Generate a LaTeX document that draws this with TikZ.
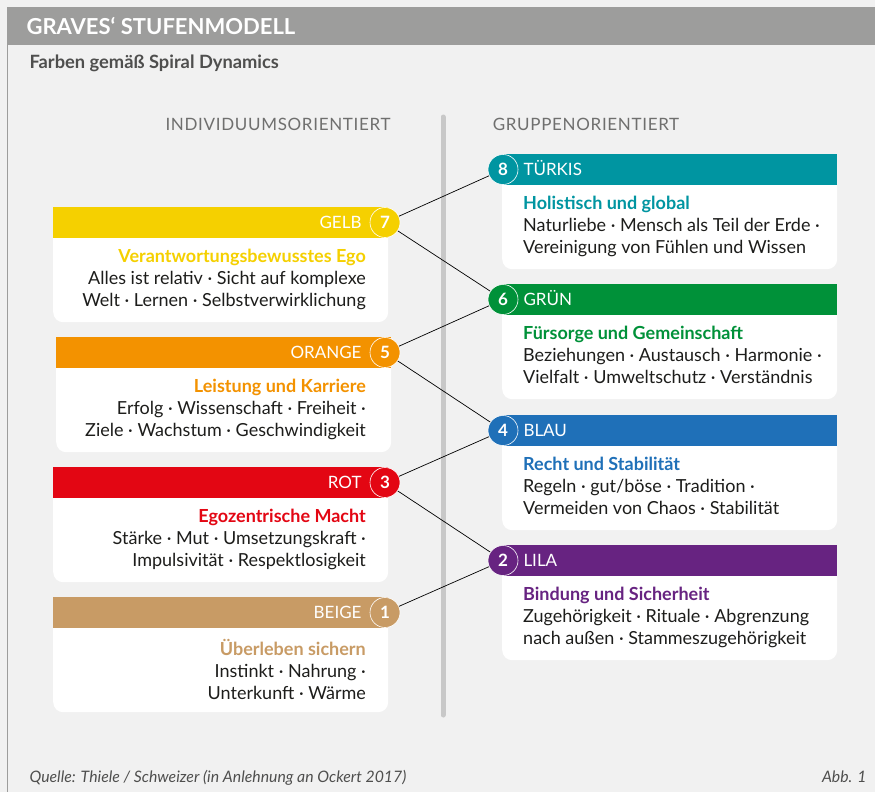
\documentclass[tikz,border=0pt]{standalone}
\usepackage{fontspec}
\setmainfont{Lato}
\usetikzlibrary{positioning}

\definecolor{paper}{HTML}{F1F1F1}
\definecolor{headgrey}{HTML}{9D9D9C}
\definecolor{subgrey}{HTML}{4F4F4E}
\definecolor{colgrey}{HTML}{6F6F6E}
\definecolor{divgrey}{HTML}{C8C8C8}
\definecolor{ink}{HTML}{1D1D1B}
\definecolor{gelb}{HTML}{F5D000}
\definecolor{orange}{HTML}{F39200}
\definecolor{rot}{HTML}{E30613}
\definecolor{beige}{HTML}{C89B65}
\definecolor{tuerkis}{HTML}{0095A1}
\definecolor{gruen}{HTML}{009139}
\definecolor{blau}{HTML}{1F70B8}
\definecolor{lila}{HTML}{672381}

\begin{document}
\begin{tikzpicture}[x=1pt, y=-1pt,
    card/.style={rectangle, fill=white, rounded corners=10pt, minimum width=335pt, minimum height=115pt, inner sep=0pt, anchor=north west},
    bar/.style={rectangle, minimum width=335pt, minimum height=31pt, inner sep=0pt, anchor=north west},
    stage/.style={circle, draw=white, line width=0.6pt, minimum size=30pt, inner sep=0pt, text=white, font=\fontsize{17}{17}\selectfont\bfseries},
    barlabel/.style={text=white, inner sep=0pt, text height=12pt, text depth=0pt, font=\fontsize{17}{17}\selectfont},
    lefttext/.style={align=right, anchor=north east, inner sep=0pt, text=ink, font=\fontsize{18}{22}\selectfont, execute at begin node=\strut},
    righttext/.style={align=left, anchor=north west, inner sep=0pt, text=ink, font=\fontsize{18}{22}\selectfont, execute at begin node=\strut},
    colhead/.style={anchor=base, text=colgrey, font=\fontsize{17}{17}\selectfont\addfontfeature{LetterSpace=4}},
    divider/.style={draw=divgrey, line width=5pt, line cap=round},
    link/.style={draw=black, line width=0.7pt}
]

    % Frame ===========================
    \useasboundingbox (0,0) rectangle (875,792);
    \fill[paper] (0,0) rectangle (875,792);
    \fill[headgrey] (7,7) rectangle (875,45);
    \draw[headgrey, line width=1pt] (7,45) -- (7,792);

    \node[anchor=base west, text=white, font=\fontsize{22}{22}\selectfont\bfseries] (title) at (23,35) {GRAVES‘ STUFENMODELL};
    \node[anchor=base west, text=subgrey, font=\fontsize{18.3}{18.3}\selectfont\bfseries] (subtitle) at (26,69) {Farben gemäß Spiral Dynamics};

    % Columns ===========================
    \node[colhead] (indiv) at (278,130) {INDIVIDUUMSORIENTIERT};
    \node[colhead] (gruppe) at (586,130) {GRUPPENORIENTIERT};

    \coordinate (divTop) at (443,117);
    \coordinate (divBot) at (443,715);
    \draw[divider] (divTop) -- (divBot);

    % Individual stages ===========================
    \node[card] (gelbCard) at (53,207) {};
    \node[bar, fill=gelb] (gelbBar) at (53,207) {};
    \node[stage, fill=gelb] (n7) at (385,222.5) {7};
    \node[barlabel, left=8pt of n7] (gelbLabel) {GELB};
    \node[lefttext] (gelbText) at (366,249) {\textcolor{gelb}{\bfseries Verantwortungsbewusstes Ego}\\Alles ist relativ · Sicht auf komplexe\\Welt · Lernen · Selbstverwirklichung};

    \node[card] (orangeCard) at (56,337) {};
    \node[bar, fill=orange] (orangeBar) at (56,337) {};
    \node[stage, fill=orange] (n5) at (385,352.5) {5};
    \node[barlabel, left=8pt of n5] (orangeLabel) {ORANGE};
    \node[lefttext] (orangeText) at (366,379) {\textcolor{orange}{\bfseries Leistung und Karriere}\\Erfolg · Wissenschaft · Freiheit ·\\Ziele · Wachstum · Geschwindigkeit};

    \node[card] (rotCard) at (53,467) {};
    \node[bar, fill=rot] (rotBar) at (53,467) {};
    \node[stage, fill=rot] (n3) at (385,482.5) {3};
    \node[barlabel, left=8pt of n3] (rotLabel) {ROT};
    \node[lefttext] (rotText) at (366,509) {\textcolor{rot}{\bfseries Egozentrische Macht}\\Stärke · Mut · Umsetzungskraft ·\\Impulsivität · Respektlosigkeit};

    \node[card] (beigeCard) at (53,597) {};
    \node[bar, fill=beige] (beigeBar) at (53,597) {};
    \node[stage, fill=beige] (n1) at (385,612.5) {1};
    \node[barlabel, left=8pt of n1] (beigeLabel) {BEIGE};
    \node[lefttext] (beigeText) at (366,639) {\textcolor{beige}{\bfseries Überleben sichern}\\Instinkt · Nahrung ·\\Unterkunft · Wärme};

    % Group stages ===========================
    \node[card] (tuerkisCard) at (502,154) {};
    \node[bar, fill=tuerkis] (tuerkisBar) at (502,154) {};
    \node[stage, fill=tuerkis] (n8) at (503,169.5) {8};
    \node[barlabel, right=5pt of n8] (tuerkisLabel) {TÜRKIS};
    \node[righttext] (tuerkisText) at (523,195.5) {\textcolor{tuerkis}{\bfseries Holistisch und global}\\Naturliebe · Mensch als Teil der Erde ·\\Vereinigung von Fühlen und Wissen};

    \node[card] (gruenCard) at (502,284) {};
    \node[bar, fill=gruen] (gruenBar) at (502,284) {};
    \node[stage, fill=gruen] (n6) at (503,299.5) {6};
    \node[barlabel, right=5pt of n6] (gruenLabel) {GRÜN};
    \node[righttext] (gruenText) at (523,325.5) {\textcolor{gruen}{\bfseries Fürsorge und Gemeinschaft}\\Beziehungen · Austausch · Harmonie ·\\Vielfalt · Umweltschutz · Verständnis};

    \node[card] (blauCard) at (502,415) {};
    \node[bar, fill=blau] (blauBar) at (502,415) {};
    \node[stage, fill=blau] (n4) at (503,430.5) {4};
    \node[barlabel, right=5pt of n4] (blauLabel) {BLAU};
    \node[righttext] (blauText) at (523,456.5) {\textcolor{blau}{\bfseries Recht und Stabilität}\\Regeln · gut/böse · Tradition ·\\Vermeiden von Chaos · Stabilität};

    \node[card] (lilaCard) at (502,545) {};
    \node[bar, fill=lila] (lilaBar) at (502,545) {};
    \node[stage, fill=lila] (n2) at (503,560.5) {2};
    \node[barlabel, right=5pt of n2] (lilaLabel) {LILA};
    \node[righttext] (lilaText) at (523,586.5) {\textcolor{lila}{\bfseries Bindung und Sicherheit}\\Zugehörigkeit · Rituale · Abgrenzung\\nach außen · Stammeszugehörigkeit};

    % Spiral links ===========================
    \draw[link] (n1) -- (n2);
    \draw[link] (n2) -- (n3);
    \draw[link] (n3) -- (n4);
    \draw[link] (n4) -- (n5);
    \draw[link] (n5) -- (n6);
    \draw[link] (n6) -- (n7);
    \draw[link] (n7) -- (n8);

    % Footer ===========================
    \node[anchor=base west, text=subgrey, font=\fontsize{15.8}{15.8}\selectfont\itshape] (source) at (26,782) {Quelle: Thiele / Schweizer (in Anlehnung an Ockert 2017)};
    \node[anchor=base east, text=subgrey, font=\fontsize{15.8}{15.8}\selectfont\itshape] (abb) at (870,782) {Abb. 1};

\end{tikzpicture}
\end{document}
